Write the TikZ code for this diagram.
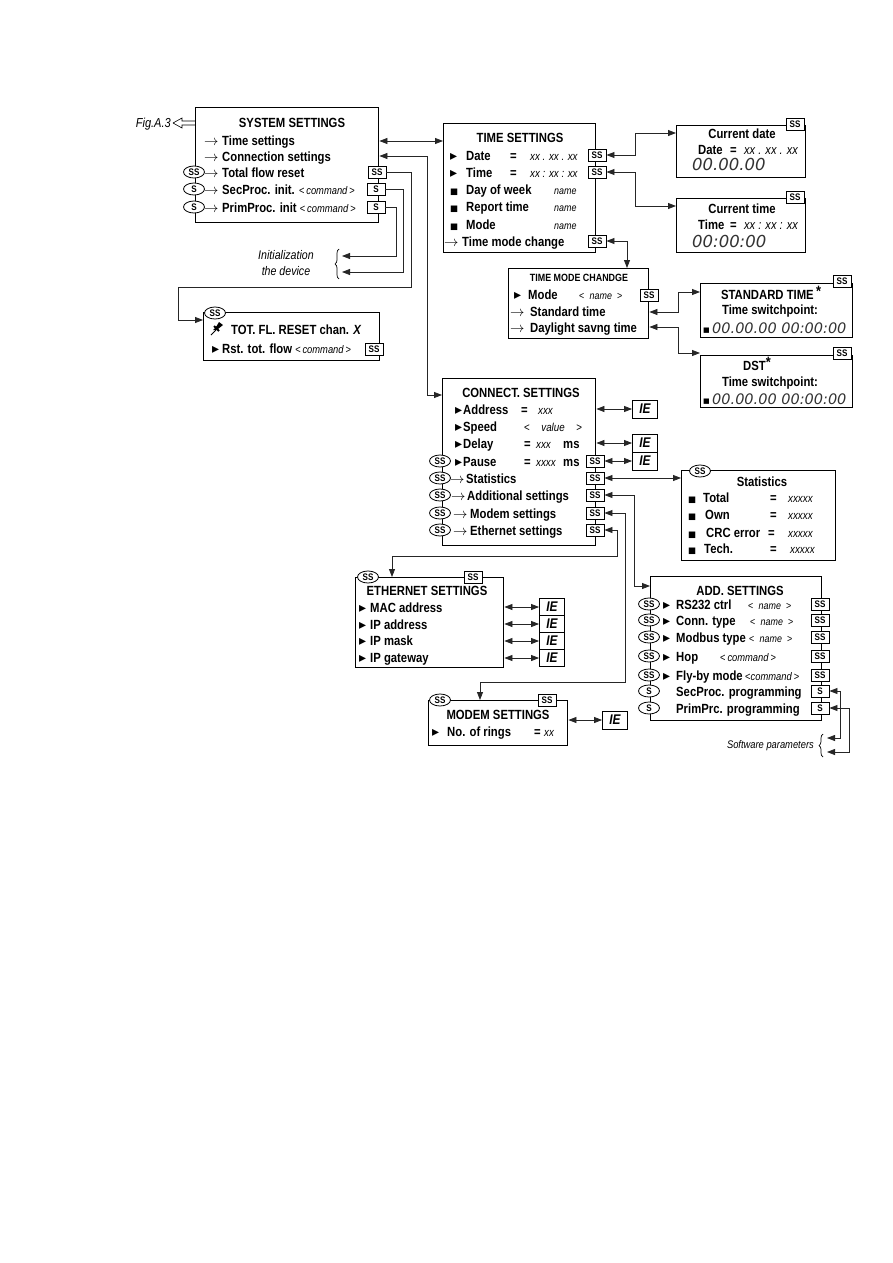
\documentclass[tikz,border=0pt]{standalone}
\usepackage{fontspec}
\setmainfont[FakeStretch=0.85]{Liberation Sans}
\newfontfamily\djv{DejaVu Sans}
\newfontfamily\segf{DejaVu Sans}
\usetikzlibrary{arrows.meta,shapes.geometric,decorations.pathreplacing}
\newcount\tnc
\newcount\onc
\newcommand\mainf{\bfseries\fontsize{13.3}{15}\selectfont}
\newcommand\TX[4][]{\global\advance\tnc by 1 \node[lbl,#1] (t\the\tnc) at (#2,#3) {#4};}
\newcommand\OV[3]{\global\advance\onc by 1 \node[ov] (o\the\onc) at (#1,#2) {#3};}
\newcommand\mktri{{\djv\fontsize{14}{14}\selectfont ▸}}
\newcommand\sqm{{\djv\fontsize{8.5}{8.5}\selectfont ■}}
\newcommand\rarr{$\rightarrow$}
\newcommand\cmdv[1]{{\mdseries\fontsize{11}{13}\selectfont<\,\textit{#1}\,>}}
\newcommand\namev{{\mdseries\fontsize{10.5}{12}\selectfont<\enspace\textit{name}\enspace>}}
\begin{document}
\begin{tikzpicture}[x=1pt,y=-1pt,
  >={Triangle[length=8pt,width=6pt]},
  box/.style={draw, line width=1.4pt, inner sep=0pt, anchor=north west},
  ssb/.style={draw, line width=0.9pt, fill=white, inner sep=0pt, minimum width=18pt, minimum height=12pt, font=\bfseries\fontsize{9.5}{9.5}\selectfont},
  ov/.style={ellipse, draw, fill=white, line width=0.8pt, minimum width=21pt, minimum height=12pt, inner sep=0pt, font=\bfseries\fontsize{9.5}{9.5}\selectfont},
  ie/.style={draw, line width=0.9pt, fill=white, inner sep=0pt, minimum width=25pt, minimum height=17pt, font=\bfseries\itshape\fontsize{14}{14}\selectfont},
  lbl/.style={anchor=base west, inner sep=0pt, font=\mainf},
  ctr/.style={anchor=base},
  itv/.style={font=\mdseries\itshape\fontsize{11.5}{13}\selectfont},
  itn/.style={font=\mdseries\itshape\fontsize{10.5}{12}\selectfont},
  itv2/.style={font=\mdseries\itshape\fontsize{13}{15}\selectfont},
  seg/.style={anchor=base west, inner sep=0pt, text=black!80},
  conn/.style={line width=0.8pt, draw=black!85},
  brc/.style={line width=0.7pt, decorate, decoration={brace, amplitude=4pt}},
]
\fill[white] (0,0) rectangle (893,1263);
\useasboundingbox (0,0) rectangle (893,1263);

% ---------- Fig label ----------
\node[anchor=east, inner sep=0pt, font=\itshape\fontsize{13}{13}\selectfont] (fig) at (171,124) {Fig.A.3};
\draw[line width=0.6pt] ([xshift=2pt,yshift=1pt]fig.east) -- ++(9,-5) -- ++(0,3) -- ++(13,0);
\draw[line width=0.6pt] ([xshift=2pt,yshift=1pt]fig.east) -- ++(9,5) -- ++(0,-3) -- ++(13,0);

% ---------- SYSTEM SETTINGS ----------
\node[box, minimum width=183pt, minimum height=115pt] (sys) at (195,107) {};
\TX[ctr]{292}{127}{SYSTEM SETTINGS}
\TX{204}{145}{\rarr}\TX{222}{145}{Time settings}
\TX{204}{161}{\rarr}\TX{222}{161}{Connection settings}
\OV{194}{172}{SS}\TX{204}{177}{\rarr}\TX{222}{177}{Total flow reset}
\OV{194}{189}{S}\TX{204}{194}{\rarr}\TX{222}{194}{SecProc. init. \cmdv{command}}
\OV{194}{207}{S}\TX{204}{212}{\rarr}\TX{222}{212}{PrimProc. init \cmdv{command}}
\node[ssb] (sTFR) at (377,172) {SS};
\node[ssb] (sSec) at (376,189) {S};
\node[ssb] (sPrim) at (376,207) {S};

% Initialization
\node[align=center, inner sep=0pt, font=\itshape\fontsize{12.5}{16}\selectfont] (init) at (286,263) {Initialization\\the device};
\draw[brc] (339,279) -- (339,249);
\coordinate (b1) at (342,256);
\coordinate (b2) at (342,272);

% ---------- TOT FL RESET ----------
\node[box, minimum width=176pt, minimum height=48pt] (tot) at (203,312) {};
\OV{215}{313}{SS}
\draw[line width=1pt] (211,335) -- (216,330);
\fill (213,330) -- (217,326) -- (218,328) -- (216,330) -- cycle;
\fill (216,327) -- (219,322) -- (223,325) -- (218,329) -- cycle;
\draw[line width=1.8pt] (214,326) -- (219,331);
\TX{231}{334}{TOT. FL. RESET chan. \textit{X}}
\TX{212}{353}{\mktri}\TX{222}{353}{Rst. tot. flow \cmdv{command}}
\node[ssb] (sRst) at (374,349) {SS};

% ---------- TIME SETTINGS ----------
\node[box, minimum width=152pt, minimum height=129pt] (ts) at (443,123) {};
\TX[ctr]{520}{142}{TIME SETTINGS}
\TX{450}{160}{\mktri}\TX{466}{160}{Date}\TX{510}{160}{=}\TX[itv]{530}{160}{xx . xx . xx}
\TX{450}{177}{\mktri}\TX{466}{177}{Time}\TX{510}{177}{=}\TX[itv]{530}{177}{xx : xx : xx}
\TX{450}{194}{\sqm}\TX{466}{194}{Day of week}\TX[itn]{554}{194}{name}
\TX{450}{211}{\sqm}\TX{466}{211}{Report time}\TX[itn]{554}{211}{name}
\TX{450}{229}{\sqm}\TX{466}{229}{Mode}\TX[itn]{554}{229}{name}
\TX{444}{246}{\rarr}\TX{462}{246}{Time mode change}
\node[ssb] (sDate) at (597,155) {SS};
\node[ssb] (sTime) at (597,172) {SS};
\node[ssb] (sTMC) at (597,241) {SS};

% ---------- Current date / time ----------
\node[box, minimum width=129pt, minimum height=52pt] (cdate) at (676,125) {};
\node[ssb] (sCD) at (795,124) {SS};
\TX[ctr]{742}{138}{Current date}
\TX{698}{154}{Date}\TX{730}{154}{=}\TX[itv2]{744}{154}{xx . xx . xx}
\node[seg, font=\segf\itshape\fontsize{16.5}{16.5}\selectfont] (dgD) at (692,170) {00.00.00};

\node[box, minimum width=129pt, minimum height=54pt] (ctime) at (676,198) {};
\node[ssb] (sCT) at (795,197) {SS};
\TX[ctr]{742}{213}{Current time}
\TX{698}{229}{Time}\TX{730}{229}{=}\TX[itv2]{744}{229}{xx : xx : xx}
\node[seg, font=\segf\itshape\fontsize{16.5}{16.5}\selectfont] (dgT) at (692,247) {00:00:00};

% ---------- TIME MODE CHANDGE ----------
\node[box, minimum width=140pt, minimum height=70pt] (tmc) at (508,268) {};
\TX[ctr, font=\bfseries\fontsize{10.5}{12}\selectfont]{579}{281}{TIME MODE CHANDGE}
\TX{514}{299}{\mktri}\TX{528}{299}{Mode}\TX{579}{299}{\namev}
\node[ssb] (sMode) at (649,295) {SS};
\TX{510}{316}{\rarr}\TX{530}{316}{Standard time}
\TX{510}{332}{\rarr}\TX{530}{332}{Daylight savng time}

% ---------- STANDARD TIME / DST ----------
\node[box, minimum width=152pt, minimum height=54pt] (std) at (700,283) {};
\node[ssb] (sStd) at (842,281) {SS};
\TX[ctr]{771}{299}{STANDARD TIME\,\raisebox{3pt}{\fontsize{15}{15}\selectfont *}}
\TX[ctr]{770}{314}{Time switchpoint:}
\TX{703}{332}{{\djv\fontsize{7}{7}\selectfont ■}}
\node[seg, font=\segf\itshape\fontsize{14.5}{14.5}\selectfont] (dgS) at (712,333) {00.00.00 00:00:00};

\node[box, minimum width=152pt, minimum height=52pt] (dst) at (700,355) {};
\node[ssb] (sDst) at (842,353) {SS};
\TX[ctr]{757}{370}{DST\raisebox{3pt}{\fontsize{15}{15}\selectfont *}}
\TX[ctr]{770}{386}{Time switchpoint:}
\TX{703}{403}{{\djv\fontsize{7}{7}\selectfont ■}}
\node[seg, font=\segf\itshape\fontsize{14.5}{14.5}\selectfont] (dgX) at (712,404) {00.00.00 00:00:00};

% ---------- CONNECT. SETTINGS ----------
\node[box, minimum width=153pt, minimum height=167pt] (cs) at (442,378) {};
\TX[ctr]{521}{397}{CONNECT. SETTINGS}
\TX{455}{414}{\mktri}\TX{463}{414}{Address}\TX{521}{414}{=}\TX[itv]{538}{414}{xxx}
\TX{455}{431}{\mktri}\TX{463}{431}{Speed}\TX[itv]{524}{431}{\upshape<\quad\itshape value\quad\upshape>}
\TX{455}{448}{\mktri}\TX{463}{448}{Delay}\TX{524}{448}{=}\TX[itv]{536}{448}{xxx}\TX{563}{448}{ms}
\OV{440}{461}{SS}\TX{455}{466}{\mktri}\TX{463}{466}{Pause}\TX{524}{466}{=}\TX[itv]{536}{466}{xxxx}\TX{563}{466}{ms}
\OV{440}{478}{SS}\TX{450}{483}{\rarr}\TX{466}{483}{Statistics}
\OV{440}{495}{SS}\TX{451}{500}{\rarr}\TX{467}{500}{Additional settings}
\OV{440}{513}{SS}\TX{453}{518}{\rarr}\TX{470}{518}{Modem settings}
\OV{440}{530}{SS}\TX{453}{535}{\rarr}\TX{470}{535}{Ethernet settings}
\node[ssb] (sPause) at (595,461) {SS};
\node[ssb] (sStat) at (595,478) {SS};
\node[ssb] (sAdd) at (595,495) {SS};
\node[ssb] (sMod) at (595,513) {SS};
\node[ssb] (sEth) at (595,530) {SS};
\node[ie, minimum height=18pt] (ie1) at (645,409) {IE};
\node[ie, minimum height=18pt] (ie2) at (645,443) {IE};
\node[ie, minimum height=18pt] (ie3) at (645,461) {IE};

% ---------- Statistics ----------
\node[box, minimum width=154pt, minimum height=90pt] (stat) at (681,470) {};
\OV{700}{471}{SS}
\TX[ctr]{762}{486}{Statistics}
\TX{688}{502}{\sqm}\TX{703}{502}{Total}\TX{770}{502}{=}\TX[itv]{788}{502}{xxxxx}
\TX{688}{519}{\sqm}\TX{705}{519}{Own}\TX{770}{519}{=}\TX[itv]{788}{519}{xxxxx}
\TX{688}{537}{\sqm}\TX{706}{537}{CRC error}\TX{768}{537}{=}\TX[itv]{788}{537}{xxxxx}
\TX{688}{553}{\sqm}\TX{704}{553}{Tech.}\TX{770}{553}{=}\TX[itv]{790}{553}{xxxxx}

% ---------- ETHERNET SETTINGS ----------
\node[box, minimum width=148pt, minimum height=90pt] (eth) at (355,577) {};
\OV{368}{577}{SS}
\node[ssb] (sEthT) at (473,577) {SS};
\TX[ctr]{427}{595}{ETHERNET SETTINGS}
\TX{359}{612}{\mktri}\TX{370}{612}{MAC address}
\TX{359}{629}{\mktri}\TX{370}{629}{IP address}
\TX{359}{645}{\mktri}\TX{370}{645}{IP mask}
\TX{359}{662}{\mktri}\TX{370}{662}{IP gateway}
\node[ie] (ieE1) at (552,607) {IE};
\node[ie] (ieE2) at (552,624) {IE};
\node[ie] (ieE3) at (552,641) {IE};
\node[ie] (ieE4) at (552,658) {IE};

% ---------- ADD. SETTINGS ----------
\node[box, minimum width=171pt, minimum height=144pt] (add) at (650,576) {};
\TX[ctr]{740}{595}{ADD. SETTINGS}
\OV{649}{604}{SS}\TX{663}{609}{\mktri}\TX{676}{609}{RS232 ctrl}\TX{748}{609}{\namev}
\OV{649}{620}{SS}\TX{663}{625}{\mktri}\TX{676}{625}{Conn. type}\TX{750}{625}{\namev}
\OV{649}{637}{SS}\TX{663}{642}{\mktri}\TX{676}{642}{Modbus type}\TX{749}{642}{\namev}
\OV{649}{656}{SS}\TX{663}{661}{\mktri}\TX{676}{661}{Hop}\TX{720}{661}{\cmdv{command}}
\OV{649}{675}{SS}\TX{663}{680}{\mktri}\TX{676}{680}{Fly-by mode}\TX{745}{680}{{\mdseries\fontsize{11}{13}\selectfont<\textit{command}\,>}}
\OV{649}{691}{S}\TX{676}{696}{SecProc. programming}
\OV{649}{708}{S}\TX{676}{713}{PrimPrc. programming}
\node[ssb] (sA1) at (820,604) {SS};
\node[ssb] (sA2) at (820,620) {SS};
\node[ssb] (sA3) at (820,637) {SS};
\node[ssb] (sA4) at (820,656) {SS};
\node[ssb] (sA5) at (820,675) {SS};
\node[ssb] (sSP) at (820,691) {S};
\node[ssb] (sPP) at (820,708) {S};

\node[anchor=east, inner sep=0pt, font=\itshape\fontsize{11}{12}\selectfont] (swp) at (814,746) {Software parameters};
\draw[brc] (823,757) -- (823,734);
\coordinate (b3) at (827,738);
\coordinate (b4) at (827,752);

% ---------- MODEM SETTINGS ----------
\node[box, minimum width=139pt, minimum height=45pt] (mod) at (428,700) {};
\OV{440}{700}{SS}
\node[ssb] (sModT) at (547,700) {SS};
\TX[ctr]{498}{719}{MODEM SETTINGS}
\TX{432}{736}{\mktri}\TX{447}{736}{No. of rings}\TX{534}{736}{=}\TX[itv]{544}{736}{xx}
\node[ie, minimum height=18pt] (ieM) at (615,720) {IE};

% ---------- connectors ----------
\coordinate (k0) at (410,141);
\coordinate (k1) at (427,156);
\coordinate (k2) at (427,395);
\coordinate (k3) at (411,287);
\coordinate (k4) at (178,287);
\coordinate (k5) at (178,320);
\coordinate (k6) at (403,272);
\coordinate (k7) at (396,256);
\coordinate (k8) at (635,133);
\coordinate (k9) at (635,206);
\coordinate (k10) at (627,268);
\coordinate (k11) at (678,312);
\coordinate (k12) at (678,292);
\coordinate (k13) at (678,327);
\coordinate (k14) at (678,353);
\coordinate (k15) at (634,586);
\coordinate (k16) at (625,682);
\coordinate (k17) at (480,700);
\coordinate (k18) at (617,556);
\coordinate (k19) at (392,577);
\coordinate (k20) at (840,738);
\coordinate (k21) at (849,752);

\draw[conn,<->] (sys.east |- k0) -- (ts.west |- k0);
\draw[conn,<->] (sys.east |- k1) -- (k1) -- (k2) -- (cs.west |- k2);
\draw[conn,->] (sTFR.east) -| (k3) -- (k4) -- (k5) -- (tot.west |- k5);
\draw[conn,->] (sSec.east) -| (k6) -- (b2);
\draw[conn,->] (sPrim.east) -| (k7) -- (b1);
\draw[conn,<->] (sDate.east) -| (k8) -- (cdate.west |- k8);
\draw[conn,<->] (sTime.east) -| (k9) -- (ctime.west |- k9);
\draw[conn,<->] (sTMC.east) -| (k10);
\draw[conn,<->] (tmc.east |- k11) -- (k11) -- (k12) -- (std.west |- k12);
\draw[conn,<->] (tmc.east |- k13) -- (k13) -- (k14) -- (dst.west |- k14);
\draw[conn,<->] (cs.east |- ie1) -- (ie1.west);
\draw[conn,<->] (cs.east |- ie2) -- (ie2.west);
\draw[conn,<->] (sPause.east) -- (ie3.west);
\draw[conn,<->] (sStat.east) -- (stat.west |- sStat);
\draw[conn,<->] (sAdd.east) -| (k15) -- (add.west |- k15);
\draw[conn,<->] (sMod.east) -| (k16) -| (k17);
\draw[conn,<->] (sEth.east) -| (k18) -| (k19);
\draw[conn,<->] (eth.east |- ieE1) -- (ieE1.west);
\draw[conn,<->] (eth.east |- ieE2) -- (ieE2.west);
\draw[conn,<->] (eth.east |- ieE3) -- (ieE3.west);
\draw[conn,<->] (eth.east |- ieE4) -- (ieE4.west);
\draw[conn,<->] (mod.east |- ieM) -- (ieM.west);
\draw[conn,<->] (sSP.east) -| (k20) -- (b3);
\draw[conn,<->] (sPP.east) -| (k21) -- (b4);
\end{tikzpicture}
\end{document}
